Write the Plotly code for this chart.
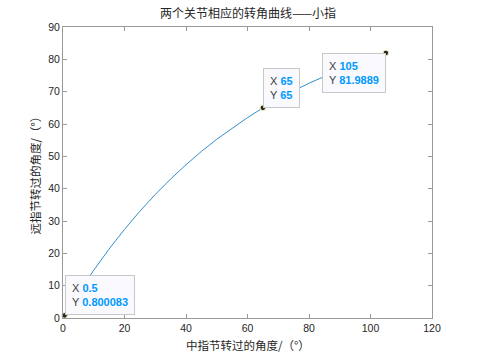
import plotly.graph_objects as go

# Data
x_mid = [0.5, 5, 10, 15, 20, 25, 30, 35, 40, 45, 50, 55, 60, 65,
         70, 75, 80, 85, 90, 95, 100, 105]
y_dist = [0.800083, 7.69, 14.79, 21.35, 27.41, 33.02, 38.20, 42.99, 47.41,
          51.50, 55.28, 58.76, 61.98, 65.0, 67.71, 70.26, 72.61, 74.78,
          76.78, 78.64, 80.35, 81.9889]

tip_x = [0.5, 65, 105]
tip_y = [0.800083, 65, 81.9889]
tip_xlabel = ["0.5", "65", "105"]
tip_ylabel = ["0.800083", "65", "81.9889"]

x_ticks = [0, 20, 40, 60, 80, 100, 120]
y_ticks = [0, 10, 20, 30, 40, 50, 60, 70, 80, 90]

title_text = "两个关节相应的转角曲线——小指"
xlabel_text = "中指节转过的角度/（°）"
ylabel_text = "远指节转过的角度/（°）"

W, H = 477, 357
L, R, T, B = 63, 45, 27, 39

fig = go.Figure()
fig.add_trace(go.Scatter(x=x_mid, y=y_dist, mode="lines",
                         line=dict(color="#0072BD", width=0.8), hoverinfo="skip"))
fig.add_trace(go.Scatter(x=tip_x, y=tip_y, mode="markers",
                         marker=dict(color="#262626", size=5.5,
                                     line=dict(color="#f5f0b0", width=1)),
                         hoverinfo="skip", cliponaxis=False))

tick_font = dict(family="Liberation Sans, Arial, sans-serif", size=10.5, color="#262626")
axis_common = dict(showline=True, linecolor="#9a9a9a", linewidth=1, mirror="ticks",
                   ticks="inside", ticklen=4, tickcolor="#9a9a9a", showgrid=False,
                   zeroline=False, tickfont=tick_font)

fig.update_layout(
    width=W, height=H,
    margin=dict(l=L, r=R, t=T, b=B),
    paper_bgcolor="white", plot_bgcolor="white",
    showlegend=False,
    xaxis=dict(range=[0, 120], tickvals=x_ticks, **axis_common),
    yaxis=dict(range=[0, 90], tickvals=y_ticks, **axis_common),
)

cjk = "Noto Sans CJK SC, sans-serif"
ann = []
ann.append(dict(text=title_text, xref="paper", yref="paper", x=0.5,
                y=1 + 14 / (H - T - B), xanchor="center", yanchor="middle",
                showarrow=False, font=dict(family=cjk, size=12, color="#262626")))
ann.append(dict(text=xlabel_text, xref="paper", yref="paper", x=0.5,
                y=-(345 - (H - B)) / (H - T - B), xanchor="center", yanchor="middle",
                showarrow=False, font=dict(family=cjk, size=11.5, color="#262626")))
ann.append(dict(text=ylabel_text, xref="paper", yref="paper",
                x=-(L - 34) / (W - L - R), y=0.5, xanchor="center", yanchor="middle",
                textangle=-90, showarrow=False,
                font=dict(family=cjk, size=11.5, color="#262626")))

anchors = [("left", "bottom"), ("left", "bottom"), ("right", "top")]
for xv, yv, xl, yl, (xa, ya) in zip(tip_x, tip_y, tip_xlabel, tip_ylabel, anchors):
    txt = ("<span style='color:#404040'>X </span><b style='color:#0099ff'>%s</b><br>"
           "<span style='color:#404040'>Y </span><b style='color:#0099ff'>%s</b>") % (xl, yl)
    ann.append(dict(text=txt, x=xv, y=yv, xref="x", yref="y", xanchor=xa, yanchor=ya,
                    align="left", showarrow=False, bgcolor="#f9f9fe",
                    bordercolor="#c8c8c8", borderwidth=1, borderpad=6,
                    font=dict(family="Liberation Sans, Arial, sans-serif", size=11)))

fig.update_layout(annotations=ann)
fig.write_html("out.html", config={"displayModeBar": False},
               post_script="document.body.style.margin='0';document.body.style.padding='0';")
